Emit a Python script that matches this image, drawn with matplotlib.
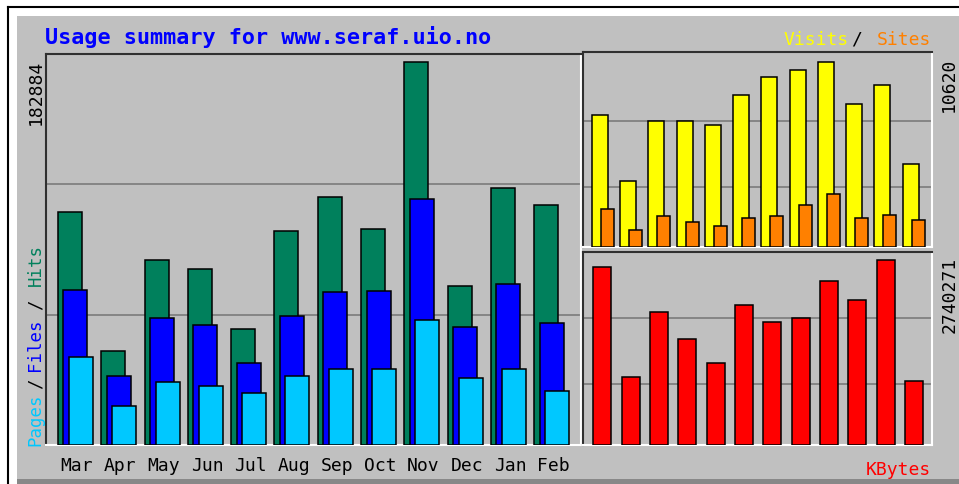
import numpy as np
import matplotlib
matplotlib.use("Agg")
import matplotlib.pyplot as plt
from matplotlib.patches import Rectangle
from matplotlib.lines import Line2D

months = ["Mar", "Apr", "May", "Jun", "Jul", "Aug", "Sep", "Oct", "Nov", "Dec", "Jan", "Feb"]
hits = [111258, 44885, 88338, 84040, 55390, 102185, 118420, 103140, 182884, 75923, 122718, 114600]
files = [74013, 32948, 60643, 57300, 39155, 61598, 73058, 73535, 117465, 56345, 76878, 58255]
pages = [42020, 18623, 30083, 28173, 24830, 32948, 36290, 36290, 59688, 31993, 36290, 25785]
visits = [7577, 3788, 7232, 7232, 7003, 8725, 9758, 10160, 10620, 8208, 9299, 4764]
sites = [2181, 976, 1779, 1435, 1205, 1665, 1779, 2411, 3042, 1665, 1837, 1550]
kbytes = [2632000, 1011700, 1965500, 1570100, 1210100, 2073700, 1826300, 1881100, 2433600, 2152200, 2740271, 952400]

W, H = 959, 485
MONO = "DejaVu Sans Mono"
c_hits, c_files, c_pages = "#00805C", "#0000FF", "#00C8FF"
c_visits, c_sites, c_kb = "#FFFF00", "#FF8000", "#FF0000"
BG = "#C0C0C0"

fig = plt.figure(figsize=(W / 100, H / 100), dpi=100, facecolor="white")


def fx(px):
    return px / W


def fy(py):
    return 1 - py / H


def panel(l, t, r, b):
    ax = fig.add_axes([fx(l), fy(b), fx(r) - fx(l), (b - t) / H])
    ax.set_facecolor(BG)
    for s in ["top", "left"]:
        ax.spines[s].set_color("#303030")
        ax.spines[s].set_linewidth(1.5)
    for s in ["bottom", "right"]:
        ax.spines[s].set_color("white")
        ax.spines[s].set_linewidth(1.5)
    ax.tick_params(length=0, labelleft=False, labelbottom=False)
    return ax


# background frame
fig.patches.append(Rectangle((fx(17), fy(480)), 1 - fx(17), fy(17) - fy(480),
                             transform=fig.transFigure, facecolor=BG, edgecolor="none", zorder=-5))
fig.patches.append(Rectangle((fx(17), 0), 1 - fx(17), fy(480),
                             transform=fig.transFigure, facecolor="#888888", edgecolor="none", zorder=-5))
fig.lines.append(Line2D([fx(8), 1], [fy(8), fy(8)], transform=fig.transFigure, color="black", lw=1.5))
fig.lines.append(Line2D([fx(8), fx(8)], [fy(8), 0], transform=fig.transFigure, color="black", lw=1.5))

x = np.arange(12)
ew = 1.1

# main panel: hits / files / pages
ax = panel(46, 55, 581, 446)
top = max(hits) * 391 / 383
ax.bar(x, hits, width=0.554, align="edge", color=c_hits, edgecolor="black", lw=ew, zorder=3)
ax.bar(x + 0.127, files, width=0.554, align="edge", color=c_files, edgecolor="black", lw=ew, zorder=3)
ax.bar(x + 0.254, pages, width=0.554, align="edge", color=c_pages, edgecolor="black", lw=ew, zorder=3)
ax.set_xlim(-0.277, -0.277 + 535 / 43.3)
ax.set_ylim(0, top)
ax.set_yticks([top / 3, top * 2 / 3])
ax.grid(axis="y", color="#808080", lw=1.3)
ax.set_xticks(x + 0.44)
ax.set_xticklabels(months, fontsize=13, family=MONO)
ax.tick_params(labelbottom=True, pad=8)

# upper right: visits / sites
ax2 = panel(583, 53, 932, 248)
top2 = max(visits) * 195 / 185
ax2.bar(x, visits, width=0.566, align="edge", color=c_visits, edgecolor="black", lw=ew, zorder=3)
ax2.bar(x + 0.318, sites, width=0.46, align="edge", color=c_sites, edgecolor="black", lw=ew, zorder=3)
ax2.set_xlim(-0.308, -0.308 + 349 / 28.27)
ax2.set_ylim(0, top2)
ax2.set_yticks([top2 * 0.308, top2 * 0.646])
ax2.grid(axis="y", color="#808080", lw=1.3)
ax2.set_xticks([])

# lower right: kbytes
ax3 = panel(583, 253, 932, 446)
top3 = max(kbytes) * 193 / 185
ax3.bar(x, kbytes, width=0.636, align="edge", color=c_kb, edgecolor="black", lw=ew, zorder=3)
ax3.set_xlim(-0.364, -0.364 + 349 / 28.34)
ax3.set_ylim(0, top3)
ax3.set_yticks([top3 * 0.316, top3 * 0.656])
ax3.grid(axis="y", color="#808080", lw=1.3)
ax3.set_xticks([])

# texts
fig.text(fx(45), fy(37), "Usage summary for www.seraf.uio.no", color="#0000FF",
         fontsize=15.7, family=MONO, fontweight="bold", va="center", ha="left")

fig.text(fx(35.5), fy(60), str(max(hits)), rotation=90, fontsize=13, family=MONO,
         ha="center", va="top")
fig.text(fx(949), fy(58), str(max(visits)), rotation=90, fontsize=13, family=MONO,
         ha="center", va="top")
fig.text(fx(950), fy(257), str(max(kbytes)), rotation=90, fontsize=13, family=MONO,
         ha="center", va="top")

for label, yc, col in [("Pages", 420, c_pages), ("/", 384, "black"), ("Files", 345, c_files),
                       ("/", 305, "black"), ("Hits", 265, c_hits)]:
    fig.text(fx(35.5), fy(yc), label, rotation=90, fontsize=12.5, family=MONO,
             color=col, ha="center", va="center")

fig.text(fx(784), fy(40), "Visits", color=c_visits, fontsize=13, family=MONO, ha="left", va="center")
fig.text(fx(857), fy(40), "/", color="black", fontsize=13, family=MONO, ha="center", va="center")
fig.text(fx(931), fy(40), "Sites", color=c_sites, fontsize=13, family=MONO, ha="right", va="center")
fig.text(fx(931), fy(470), "KBytes", color=c_kb, fontsize=13, family=MONO, ha="right", va="center")

fig.savefig("out.png", dpi=100, facecolor="white")
